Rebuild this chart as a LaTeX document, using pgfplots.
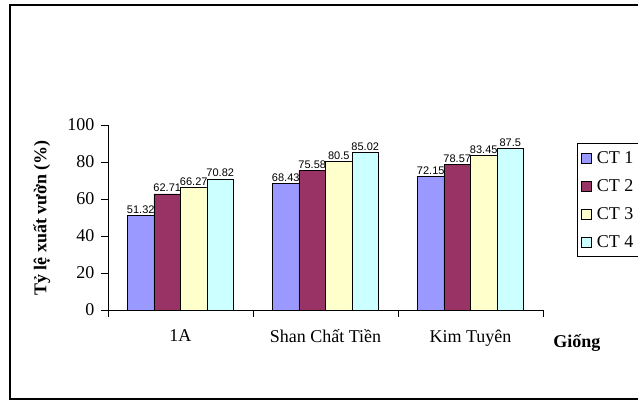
\documentclass[border=0pt]{standalone}
\usepackage{fontspec}
\setmainfont{Liberation Serif}
\newfontfamily\arial{Liberation Sans}
\usepackage{pgfplots}
\pgfplotsset{compat=1.18}
\definecolor{ct1}{HTML}{9999FF}
\definecolor{ct2}{HTML}{993366}
\definecolor{ct3}{HTML}{FFFFCC}
\definecolor{ct4}{HTML}{CCFFFF}
\newcommand\bigfont{\fontsize{18}{21}\selectfont}
\begin{document}
\begin{tikzpicture}
\useasboundingbox (-108pt,-93pt) rectangle (530pt,310pt);
% chart frame
\draw[line width=1.2pt] (540pt,305pt) -- (-98pt,305pt) -- (-98pt,-89pt) -- (540pt,-89pt);
\begin{axis}[
  at={(0pt,0pt)}, anchor=south west,
  scale only axis, width=435pt, height=185pt,
  xmin=-0.5, xmax=2.5, ymin=0, ymax=100,
  axis x line*=bottom, axis y line*=left,
  axis line style={line width=0.9pt, black},
  /pgf/number format/assume math mode=true,
  ybar=0pt, bar width=26.5pt,
  tick align=outside, major tick length=7pt,
  tick style={line width=0.9pt, black},
  ticklabel style={font=\bigfont},
  ytick={0,20,...,100},
  yticklabel style={xshift=-3pt},
  xtick={-0.5,0.5,1.5,2.5}, xticklabels={},
  extra x ticks={0,1,2},
  extra x tick labels={1A, Shan Chất Tiền, Kim Tuyên},
  extra x tick style={major tick length=0pt, xticklabel style={yshift=-16pt}},
  xlabel={\bfseries Giống},
  xlabel style={at={(axis description cs:1.078,-0.178)}, anchor=center, font=\bigfont},
  ylabel={\bfseries Tỷ lệ xuất vườn (\%)},
  ylabel style={at={(axis description cs:-0.152,0.497)}, anchor=center, font=\bigfont},
  nodes near coords,
  nodes near coords style={font=\arial\fontsize{11}{12}\selectfont, inner sep=1.5pt, anchor=south, black},
  every axis plot/.append style={draw=black, line width=0.8pt},
  legend style={at={(axis description cs:1.078,0.903)}, anchor=north west,
    draw=black, line width=0.8pt, font=\bigfont, row sep=10.5pt,
    inner xsep=4pt, inner ysep=6pt, cells={anchor=west},
    /tikz/every odd column/.append style={column sep=3pt}},
  legend image code/.code={\draw[#1, line width=0.6pt] (0pt,-5pt) rectangle (10pt,5pt);},
]
\addplot[fill=ct1] coordinates {(0,51.32) (1,68.43) (2,72.15)};
\addplot[fill=ct2] coordinates {(0,62.71) (1,75.58) (2,78.57)};
\addplot[fill=ct3] coordinates {(0,66.27) (1,80.5) (2,83.45)};
\addplot[fill=ct4] coordinates {(0,70.82) (1,85.02) (2,87.5)};
\legend{CT 1\hspace*{30pt}, CT 2, CT 3, CT 4}
\end{axis}
\end{tikzpicture}
\end{document}
